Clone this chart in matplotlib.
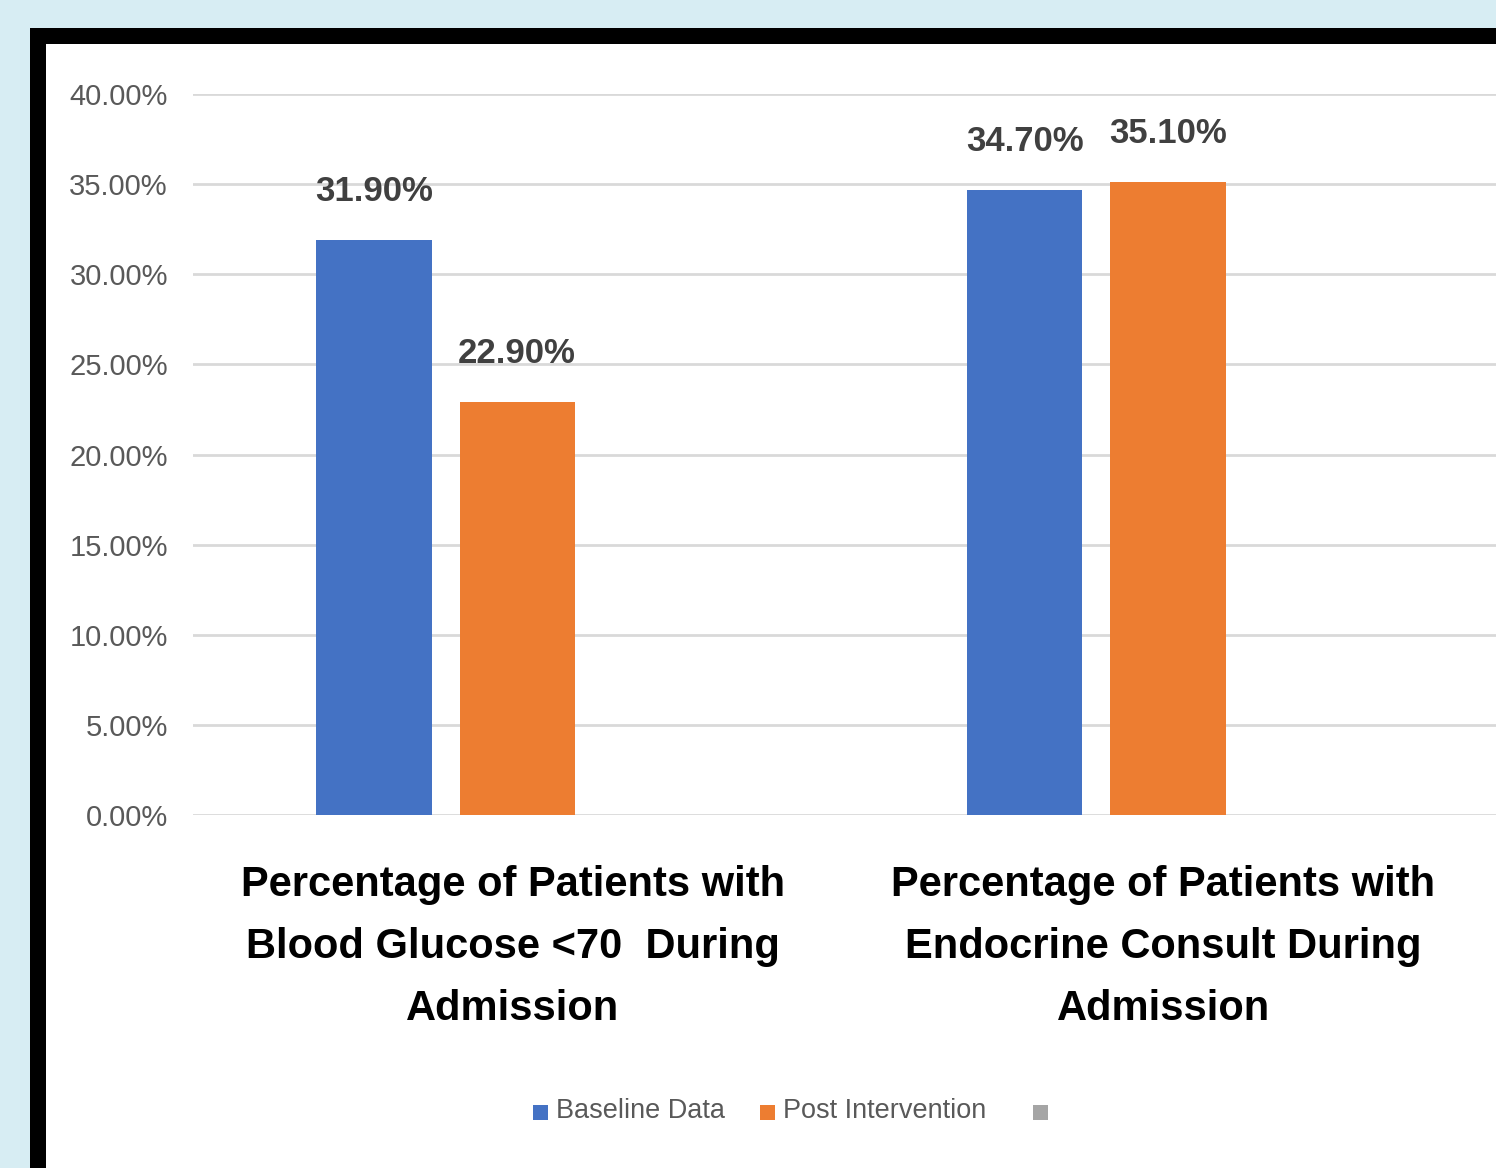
import numpy as np
import matplotlib.pyplot as plt
from matplotlib.patches import Rectangle

# datos del grafico
categorias = ["Percentage of Patients with\nBlood Glucose <70  During\nAdmission",
              "Percentage of Patients with\nEndocrine Consult During\nAdmission"]
baseline = [0.319, 0.347]
post = [0.229, 0.351]
series = ["Baseline Data", "Post Intervention", ""]
colores = ["#4472C4", "#ED7D31", "#A5A5A5"]
ticks_y = [0.0, 0.05, 0.10, 0.15, 0.20, 0.25, 0.30, 0.35, 0.40]

fuente = ["Liberation Sans", "DejaVu Sans"]

W, H = 1496, 1168
fig = plt.figure(figsize=(W / 100, H / 100), dpi=100)
fig.patch.set_facecolor("#D7EDF3")

# marco negro y fondo blanco
fig.patches.append(Rectangle((30 / W, 0), 2, (H - 28) / H, transform=fig.transFigure,
                             facecolor="black", edgecolor="none", zorder=-10))
fig.patches.append(Rectangle((46 / W, 0), 2, (H - 44) / H, transform=fig.transFigure,
                             facecolor="white", edgecolor="none", zorder=-9))

ax = fig.add_axes([193 / W, 1 - 815 / H, (W - 193) / W, (815 - 94) / H])
ax.set_facecolor("none")

x = np.arange(len(categorias))
ancho = 0.177
desp = 0.11
b1 = ax.bar(x - desp, baseline, ancho, color=colores[0], zorder=3)
b2 = ax.bar(x + desp, post, ancho, color=colores[1], zorder=3)

for barras in (b1, b2):
    for b in barras:
        ax.annotate(f"{b.get_height() * 100:.2f}%",
                    (b.get_x() + b.get_width() / 2, b.get_height()),
                    xytext=(0, 23), textcoords="offset points",
                    ha="center", va="bottom", fontsize=25, fontweight="bold",
                    color="#404040", family=fuente)

ax.set_xlim(-0.388, 1.614)
ax.set_ylim(0, 0.40)
ax.set_yticks(ticks_y)
ax.set_yticklabels([f"{t * 100:.2f}%" for t in ticks_y], family=fuente,
                   fontsize=21, color="#595959")
ax.tick_params(axis="y", length=0, pad=18)
ax.set_xticks([])
ax.grid(axis="y", color="#D9D9D9", linewidth=2, zorder=0)
for s in ax.spines.values():
    s.set_visible(False)

for xi, cat in zip(x, categorias):
    ax.text(xi + 0.103, -0.028, cat, ha="center", va="top", fontsize=30,
            fontweight="bold", family=fuente, color="black", linespacing=1.7)

# leyenda
ley_x = [533, 760, 1033]
for px, nombre, c in zip(ley_x, series, colores):
    fig.patches.append(Rectangle((px / W, 1 - 1120 / H), 15 / W, 15 / H,
                                 transform=fig.transFigure, facecolor=c,
                                 edgecolor="none", zorder=2))
    if nombre:
        fig.text((px + 23) / W, 1 - 1111 / H, nombre, ha="left", va="center",
                 fontsize=19.5, color="#595959", family=fuente)

fig.savefig("out.png", dpi=100, facecolor=fig.get_facecolor())
